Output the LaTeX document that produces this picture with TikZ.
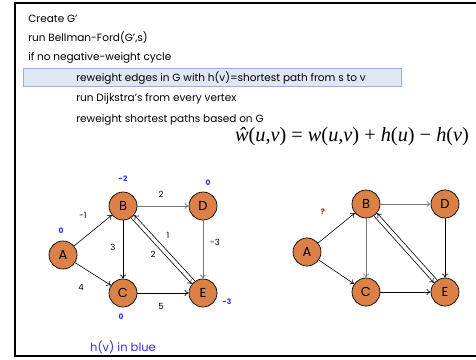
\documentclass[tikz,border=0pt]{standalone}
\usepackage{fontspec}
\setmainfont{Poppins}
\newfontfamily\formfont{Liberation Serif}
\usetikzlibrary{arrows.meta, positioning}
\definecolor{vorange}{HTML}{DB8147}
\definecolor{hblue}{HTML}{2F2FFF}
\definecolor{hlfill}{HTML}{DEE7F2}
\definecolor{hldraw}{HTML}{97B2D5}
\definecolor{egrey}{HTML}{757575}
\tikzset{
  every picture/.style={line width=0.6pt},
  txt/.style={anchor=west, inner sep=0pt, font=\fontsize{10.5}{12}\selectfont},
  hilite/.style={draw=hldraw, fill=hlfill, line width=0.8pt, minimum width=378pt, minimum height=18pt, anchor=north west, inner sep=0pt},
  vert/.style={circle, draw=black, fill=vorange, minimum size=28pt, inner sep=0pt, line width=0.7pt, font=\fontsize{13}{15}\selectfont},
  edge/.style={-{To[length=4pt, width=6pt]}, line width=0.6pt},
  wt/.style={font=\fontsize{8.5}{10}\selectfont, inner sep=1pt},
  hv/.style={font=\bfseries\fontsize{7.5}{9}\selectfont, text=hblue, inner sep=1pt},
}
\begin{document}
\begin{tikzpicture}[x=1pt, y=-1pt]
  \useasboundingbox (0,0) rectangle (476,359);
  \draw[line width=2pt] (476,3) -- (15,3) -- (15,356) -- (476,356);

  % pseudo code
  \node[txt] (create) at (28,19) {Create G'};
  \node[txt] (bf) at (28,38) {run Bellman-Ford(G',s)};
  \node[txt] (ifneg) at (28,58) {if no negative-weight cycle};
  \node[hilite] (hlbox) at (23,68) {};
  \node[txt] (rew) at (76,78) {reweight edges in G with h(v)=shortest path from s to v};
  \node[txt] (dij) at (76,99) {run Dijkstra's from every vertex};
  \node[txt] (back) at (76,120) {reweight shortest paths based on G};
  \node[font=\formfont\fontsize{20.3}{23}\selectfont, inner sep=0pt] (formula) at (352,137)
    {\textit{ŵ}(\textit{u},\textit{v}) = \textit{w}(\textit{u},\textit{v}) + \textit{h}(\textit{u}) − \textit{h}(\textit{v})};

  % left graph, with h(v)
  \node[vert] (lA) at (63,255) {A};
  \node[vert] (lB) at (123,206) {B};
  \node[vert] (lD) at (203,206) {D};
  \node[vert] (lC) at (123,293) {C};
  \node[vert] (lE) at (203,293) {E};
  \draw[edge] (lA) -- (lB);
  \draw[edge] (lA) -- (lC);
  \draw[edge, egrey] (lB) -- (lD);
  \draw[edge] (lB) -- (lC);
  \draw[edge, egrey] (lD) -- (lE);
  \draw[edge] (lC) -- (lE);
  \draw[edge, transform canvas={shift={(1.6pt,1.5pt)}}] (lE) -- (lB);
  \draw[edge, transform canvas={shift={(-1.6pt,-1.5pt)}}] (lB) -- (lE);
  \node[wt] (wAB) at (83,215) {-1};
  \node[wt] (wAC) at (81,287) {4};
  \node[wt] (wBD) at (161,194) {2};
  \node[wt] (wBC) at (113,247) {3};
  \node[wt] (wEB) at (168,235) {1};
  \node[wt] (wBE) at (153,254) {2};
  \node[wt] (wDE) at (215,242) {-3};
  \node[wt] (wCE) at (161,306) {5};
  \node[hv] (hA) at (61,231) {0};
  \node[hv] (hB) at (123,179) {-2};
  \node[hv] (hD) at (208,183) {0};
  \node[hv] (hC) at (121,317) {0};
  \node[hv] (hE) at (227,302) {-3};
  \node[text=hblue, font=\fontsize{11.5}{13}\selectfont, below=30pt of lC] (note) {h(v) in blue};

  % right graph, new weights unknown
  \node[vert] (rA) at (307,252) {A};
  \node[vert] (rB) at (366,204) {B};
  \node[vert] (rD) at (445,204) {D};
  \node[vert] (rC) at (366,292) {C};
  \node[vert] (rE) at (445,292) {E};
  \draw[edge] (rA) -- (rB);
  \draw[edge] (rA) -- (rC);
  \draw[edge, egrey] (rB) -- (rD);
  \draw[edge, egrey] (rB) -- (rC);
  \draw[edge] (rD) -- (rE);
  \draw[edge] (rC) -- (rE);
  \draw[edge, transform canvas={shift={(1.6pt,1.5pt)}}] (rE) -- (rB);
  \draw[edge, transform canvas={shift={(-1.6pt,-1.5pt)}}] (rB) -- (rE);
  \node[font=\bfseries\fontsize{7.5}{9}\selectfont, text=red, inner sep=1pt] (ask) at (323,212) {?};
\end{tikzpicture}
\end{document}
